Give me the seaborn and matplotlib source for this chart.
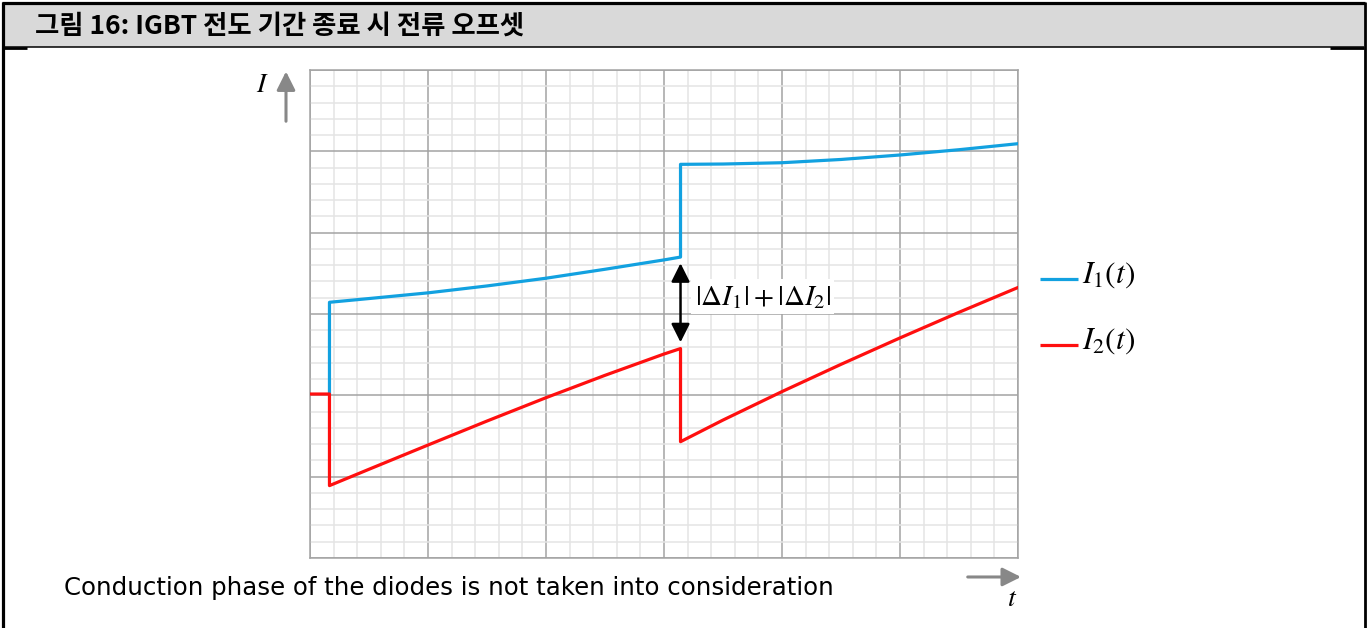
import matplotlib
matplotlib.use("Agg")
import matplotlib.pyplot as plt
import numpy as np
import pandas as pd
import seaborn as sns
from matplotlib.lines import Line2D
from matplotlib.patches import Rectangle
from matplotlib.ticker import MultipleLocator

# ---- waveform samples (time and current in grid units) ----
t_i1 = [0.165, 0.165, 0.5, 1.0, 1.5, 2.0, 2.5, 3.0, 3.14,
        3.14, 3.5, 4.0, 4.5, 5.0, 5.5, 6.0]
i1 = [2.01, 3.144, 3.19, 3.26, 3.345, 3.44, 3.55, 3.665, 3.70,
      4.84, 4.844, 4.86, 4.90, 4.955, 5.02, 5.094]

t_i2 = [0.0, 0.165, 0.165, 0.5, 1.0, 1.5, 2.0, 2.5, 3.0, 3.14,
        3.14, 3.5, 4.0, 4.5, 5.0, 5.5, 6.0]
i2 = [2.016, 2.016, 0.89, 1.091, 1.389, 1.684, 1.971, 2.246, 2.508, 2.575,
      1.43, 1.696, 2.046, 2.381, 2.706, 3.021, 3.326]

# offset marker between the two currents at the switching instant
offset_t = 3.14
offset_top = 3.624
offset_bottom = 2.652

title = "그림 16: IGBT 전도 기간 종료 시 전류 오프셋"
note = "Conduction phase of the diodes is not taken into consideration"
series_labels = [r"$I_1(t)$", r"$I_2(t)$"]
offset_label = r"$|\Delta I_1| + |\Delta I_2|$"

BLUE = "#12a1e0"
RED = "#ff0f0f"
MAJOR = "#a3a3a3"
MINOR = "#e4e4e4"
ARROW_GREY = "#888888"

sns.set_theme(style="white")
plt.rcParams["font.family"] = ["DejaVu Sans"]
plt.rcParams["mathtext.fontset"] = "stix"
plt.rcParams["text.color"] = "black"

W, H = 1368, 628
fig = plt.figure(figsize=(W / 100, H / 100), dpi=100)


def fx(x):
    return x / W


def fy(y):
    return 1 - y / H


# header band and frame
fig.patches.append(Rectangle((fx(3), fy(46.5)), fx(1364 - 3), 43.5 / H,
                             transform=fig.transFigure, facecolor="#d9d9d9",
                             edgecolor="none", zorder=0))
frame = [
    ((2, 1365), (2.5, 2.5), 2.3),
    ((2.5, 2.5), (2, 628), 2.3),
    ((1364.5, 1364.5), (2, 628), 2.0),
    ((3, 1364), (46.5, 46.5), 1.1),
    ((3, 27), (47.5, 47.5), 2.0),
    ((1330, 1364), (47.5, 47.5), 2.0),
]
for xs, ys, lw in frame:
    fig.add_artist(Line2D([fx(v) for v in xs], [fy(v) for v in ys],
                          transform=fig.transFigure, color="black", lw=lw,
                          solid_capstyle="butt"))

fig.text(fx(35), fy(26), title, ha="left", va="center", fontsize=19,
         fontweight="bold", color="black",
         family=["Noto Sans CJK KR", "DejaVu Sans"])

# ---- chart ----
ax = fig.add_axes([fx(310), fy(558), fx(1018 - 310), (558 - 70) / H])

df1 = pd.DataFrame({"t": t_i1, "I": i1})
df2 = pd.DataFrame({"t": t_i2, "I": i2})
sns.lineplot(data=df1, x="t", y="I", sort=False, estimator=None, ax=ax,
             color=BLUE, lw=2.3, zorder=3)
sns.lineplot(data=df2, x="t", y="I", sort=False, estimator=None, ax=ax,
             color=RED, lw=2.3, zorder=4)

ax.set_xlim(0, 6)
ax.set_ylim(0, 6)
ax.xaxis.set_major_locator(MultipleLocator(1))
ax.yaxis.set_major_locator(MultipleLocator(1))
ax.xaxis.set_minor_locator(MultipleLocator(0.2))
ax.yaxis.set_minor_locator(MultipleLocator(0.2))
ax.grid(which="minor", color=MINOR, lw=1.1)
ax.grid(which="major", color=MAJOR, lw=1.1)
ax.set_axisbelow(True)
ax.tick_params(which="both", length=0, labelbottom=False, labelleft=False)
ax.set_xlabel("")
ax.set_ylabel("")
for sp in ax.spines.values():
    sp.set_color(MAJOR)
    sp.set_linewidth(1.1)

# offset arrow and label
ax.annotate("", xy=(offset_t, offset_top), xytext=(offset_t, offset_bottom),
            arrowprops=dict(arrowstyle="<|-|>,head_length=0.8,head_width=0.4",
                            color="black", lw=1.8, mutation_scale=14,
                            shrinkA=0, shrinkB=0), zorder=5)
ax.text(3.26, 3.21, offset_label, ha="left", va="center", fontsize=21,
        zorder=5, bbox=dict(boxstyle="square,pad=0.12", fc="white", ec="none"))

# legend entries drawn beside the grid
for (y_px, col, lab) in [(279, BLUE, series_labels[0]), (345, RED, series_labels[1])]:
    fig.add_artist(Line2D([fx(1040), fx(1078)], [fy(y_px), fy(y_px)],
                          transform=fig.transFigure, color=col, lw=2.3,
                          solid_capstyle="butt"))
    fig.text(fx(1082), fy(y_px - 4), lab, ha="left", va="center", fontsize=22.5)

# axis direction arrows
ax.annotate("", xy=(-0.0339, 0.997), xytext=(-0.0339, 0.895),
            xycoords="axes fraction", textcoords="axes fraction",
            arrowprops=dict(arrowstyle="-|>,head_length=0.8,head_width=0.4",
                            color=ARROW_GREY, lw=2.2, mutation_scale=14,
                            shrinkA=0, shrinkB=0))
ax.annotate("", xy=(1.0042, -0.0389), xytext=(0.929, -0.0389),
            xycoords="axes fraction", textcoords="axes fraction",
            arrowprops=dict(arrowstyle="-|>,head_length=0.8,head_width=0.4",
                            color=ARROW_GREY, lw=2.2, mutation_scale=14,
                            shrinkA=0, shrinkB=0))
fig.text(fx(262), fy(84), r"$I$", ha="center", va="center", fontsize=20)
fig.text(fx(1012), fy(598), r"$t$", ha="center", va="center", fontsize=20)

fig.text(fx(64), fy(588), note, ha="left", va="center", fontsize=17.6)

fig.savefig("out.png", dpi=100)
